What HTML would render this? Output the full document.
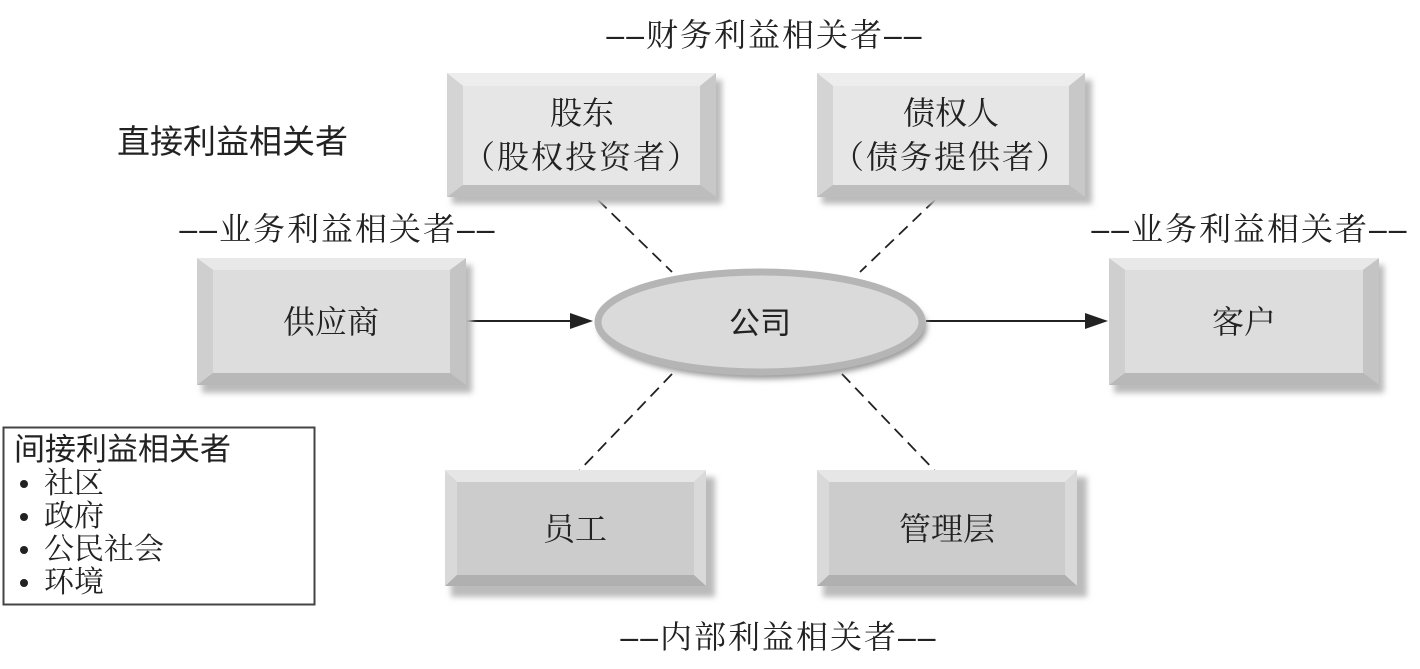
<!DOCTYPE html>
<html><head><meta charset="utf-8"><style>
body{margin:0;background:#fff;}
svg{display:block}
.s{font-family:"Noto Serif CJK SC","Noto Serif CJK JP","Liberation Serif",serif;fill:#222}
.h{font-family:"Liberation Sans","Noto Sans CJK SC",sans-serif;fill:#222}
.d{font-family:"Liberation Sans",sans-serif}
</style></head><body>
<svg width="1420" height="669" viewBox="0 0 1420 669" xmlns="http://www.w3.org/2000/svg">
<defs>
<filter id="sh" x="-10%" y="-10%" width="130%" height="140%"><feGaussianBlur stdDeviation="3"/></filter>
</defs>
<g stroke="#222" stroke-width="1.8" stroke-dasharray="12,7" fill="none">
<line x1="598" y1="200" x2="672" y2="272"/>
<line x1="935" y1="200" x2="860" y2="272"/>
<line x1="672" y1="374" x2="578" y2="472"/>
<line x1="842" y1="374" x2="936" y2="472"/>
</g>
<g stroke="#222" stroke-width="2">
<line x1="466" y1="321" x2="575" y2="321"/>
<line x1="926" y1="321" x2="1090" y2="321"/>
</g>
<polygon points="593,321 570,313 570,329" fill="#222"/>
<polygon points="1108,321 1085,313 1085,329" fill="#222"/>

<g>
<rect x="452" y="80" width="270" height="124" fill="#bbb" filter="url(#sh)"/>
<polygon points="447,73 716,73 700,86 463,86" fill="#ededed"/>
<polygon points="447,73 463,86 463,185 447,197" fill="#d4d4d4"/>
<polygon points="716,73 716,197 700,185 700,86" fill="#c8c8c8"/>
<polygon points="447,197 716,197 700,185 463,185" fill="#bdbdbd"/>
<rect x="463" y="86" width="237" height="99" fill="#e6e6e6"/>
</g>
<g>
<rect x="822" y="80" width="270" height="124" fill="#bbb" filter="url(#sh)"/>
<polygon points="817,73 1085,73 1069,86 833,86" fill="#ededed"/>
<polygon points="817,73 833,86 833,185 817,197" fill="#d4d4d4"/>
<polygon points="1085,73 1085,197 1069,185 1069,86" fill="#c8c8c8"/>
<polygon points="817,197 1085,197 1069,185 833,185" fill="#bdbdbd"/>
<rect x="833" y="86" width="236" height="99" fill="#e6e6e6"/>
</g>
<g>
<rect x="202" y="265" width="270" height="128" fill="#bbb" filter="url(#sh)"/>
<polygon points="197,258 466,258 450,270 213,270" fill="#e8e8e8"/>
<polygon points="197,258 213,270 213,373 197,385" fill="#cfcfcf"/>
<polygon points="466,258 466,385 450,373 450,270" fill="#c4c4c4"/>
<polygon points="197,385 466,385 450,373 213,373" fill="#b8b8b8"/>
<rect x="213" y="270" width="237" height="103" fill="#dddddd"/>
</g>
<g>
<rect x="1114" y="265" width="270" height="128" fill="#bbb" filter="url(#sh)"/>
<polygon points="1109,258 1379,258 1363,270 1125,270" fill="#e8e8e8"/>
<polygon points="1109,258 1125,270 1125,373 1109,385" fill="#cfcfcf"/>
<polygon points="1379,258 1379,385 1363,373 1363,270" fill="#c4c4c4"/>
<polygon points="1109,385 1379,385 1363,373 1125,373" fill="#b8b8b8"/>
<rect x="1125" y="270" width="238" height="103" fill="#dddddd"/>
</g>
<g>
<rect x="451" y="477" width="264" height="120" fill="#bbb" filter="url(#sh)"/>
<polygon points="445,470 706,470 694,482 457,482" fill="#e6e6e6"/>
<polygon points="445,470 457,482 457,575 445,586" fill="#d9d9d9"/>
<polygon points="706,470 706,586 694,575 694,482" fill="#d9d9d9"/>
<polygon points="445,586 706,586 694,575 457,575" fill="#b0b0b0"/>
<rect x="457" y="482" width="237" height="93" fill="#cccccc"/>
</g>
<g>
<rect x="823" y="477" width="264" height="120" fill="#bbb" filter="url(#sh)"/>
<polygon points="817,470 1077,470 1065,482 829,482" fill="#e6e6e6"/>
<polygon points="817,470 829,482 829,575 817,586" fill="#d9d9d9"/>
<polygon points="1077,470 1077,586 1065,575 1065,482" fill="#d9d9d9"/>
<polygon points="817,586 1077,586 1065,575 829,575" fill="#b0b0b0"/>
<rect x="829" y="482" width="236" height="93" fill="#cccccc"/>
</g>

<ellipse cx="763" cy="327" rx="164" ry="52" fill="#999" filter="url(#sh)"/>
<ellipse cx="760" cy="322" rx="162" ry="50" fill="#dadada" stroke="#b5b5b5" stroke-width="7"/>
<text x="760" y="334" text-anchor="middle" class="h" font-size="31">公司</text>

<g class="s" font-size="32" text-anchor="middle">
<text x="582" y="124">股东</text>
<text x="582" y="168" letter-spacing="2">（股权投资者）</text>
<text x="951" y="124">债权人</text>
<text x="951" y="168" letter-spacing="2">（债务提供者）</text>
<text x="331" y="333">供应商</text>
<text x="1244" y="333">客户</text>
<text x="575" y="540">员工</text>
<text x="947" y="540">管理层</text>
</g>
<g class="s" font-size="32" text-anchor="middle" letter-spacing="2">
<text x="765" y="46"><tspan class="d">––</tspan>财务利益相关者<tspan class="d">––</tspan></text>
<text x="338" y="240"><tspan class="d">––</tspan>业务利益相关者<tspan class="d">––</tspan></text>
<text x="1250" y="240"><tspan class="d">––</tspan>业务利益相关者<tspan class="d">––</tspan></text>
<text x="779" y="648"><tspan class="d">––</tspan>内部利益相关者<tspan class="d">––</tspan></text>
</g>
<text x="117" y="153" class="h" font-size="33">直接利益相关者</text>

<rect x="3.5" y="427.5" width="311" height="177" fill="#fff" stroke="#444" stroke-width="2"/>
<text x="14" y="460" class="h" font-size="31">间接利益相关者</text>
<g fill="#222">
<circle cx="24" cy="484" r="4"/>
<circle cx="24" cy="517" r="4"/>
<circle cx="24" cy="550" r="4"/>
<circle cx="24" cy="583" r="4"/>
</g>
<g class="s" font-size="30">
<text x="44" y="493">社区</text>
<text x="44" y="526">政府</text>
<text x="44" y="559">公民社会</text>
<text x="44" y="592">环境</text>
</g>
</svg>
</body></html>
